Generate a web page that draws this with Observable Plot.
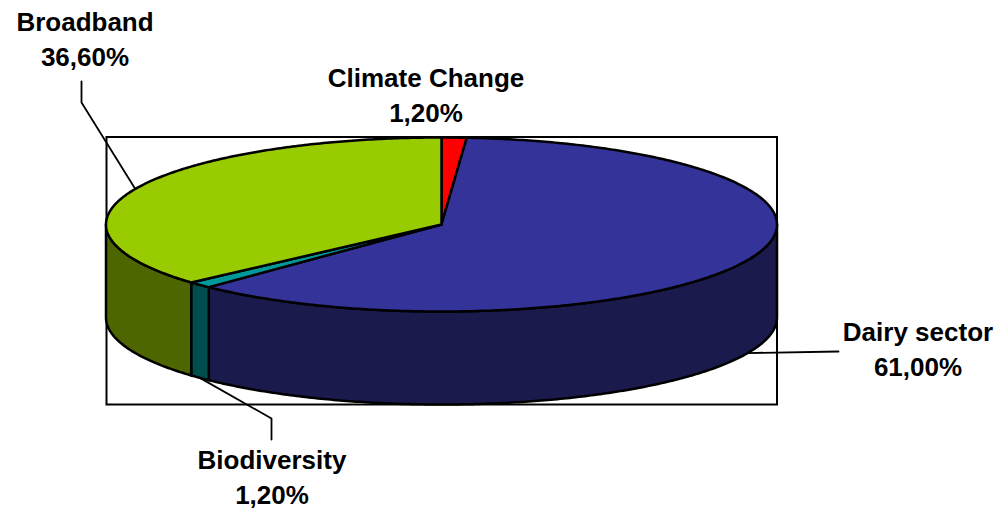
<!DOCTYPE html>
<html>
<head>
<meta charset="utf-8">
<script src="https://cdn.jsdelivr.net/npm/d3@7"></script>
<script src="https://cdn.jsdelivr.net/npm/@observablehq/plot@0.6"></script>
<style>html,body{margin:0;padding:0;background:#fff}svg{display:block}</style>
</head>
<body>
<div id="chart"></div>
<script>
// Data (clockwise from 12 o'clock)
const categories = ["Climate Change", "Dairy sector", "Biodiversity", "Broadband"];
const shares = [1.2, 61.0, 1.2, 36.6];
const valueLabels = ["1,20%", "61,00%", "1,20%", "36,60%"];
const topColors = ["#ff0000", "#333399", "#009999", "#99cc00"];
const sideColors = ["#800000", "#1a1a4d", "#004d4d", "#4d6600"];

// Layout of the fake 3D pie, in pixels
const W = 998, H = 510;
const cx = 441, cy = 224, rx = 335.5, ry = 87, depth = 93;
const box = {x1: 106.5, x2: 777, y1: 137, y2: 404.5};
const labelPos = [[425.5, 93], [917.5, 347], [271.5, 475], [84.5, 37]];
const leaderBends = [null, [[838, 351]], [[271, 418], [271, 439]], [[81, 102], [81, 81]]];

const pt = (a, dy = 0) => ({x: cx + rx * Math.sin(a), y: cy - ry * Math.cos(a) + dy});
const arc = (a0, a1, dy = 0) => {
  const n = Math.max(2, Math.ceil(Math.abs(a1 - a0) / 0.01));
  return d3.range(n + 1).map(i => pt(a0 + (a1 - a0) * i / n, dy));
};

const arcs = d3.pie().value(d => d).sort(null)(shares);

// Top face slices
const topFaces = arcs.flatMap((s, i) =>
  [{x: cx, y: cy}, ...arc(s.startAngle, s.endAngle), {x: cx, y: cy}]
    .map(p => ({...p, id: "top" + i, fill: topColors[i]})));

// Front wall: only the part of each slice on the near half of the pie
const walls = arcs.flatMap((s, i) => {
  const a0 = Math.max(s.startAngle, Math.PI / 2), a1 = Math.min(s.endAngle, 3 * Math.PI / 2);
  if (a1 <= a0) return [];
  const outline = [...arc(a0, a1), ...arc(a1, a0, depth)];
  return [...outline, outline[0]].map(p => ({...p, id: "wall" + i, fill: sideColors[i]}));
});

// Leader lines start at each slice's mid-angle on the visible edge
const leaders = arcs.flatMap((s, i) => {
  if (!leaderBends[i]) return [];
  const a = (s.startAngle + s.endAngle) / 2;
  const near = Math.cos(a) < 0;
  return [pt(a, near ? depth : 0), ...leaderBends[i].map(([x, y]) => ({x, y}))]
    .map(p => ({...p, id: "lead" + i}));
});

const labels = categories.map((c, i) => ({
  text: c + "\n" + valueLabels[i], x: labelPos[i][0], y: labelPos[i][1]
}));

const chart = Plot.plot({
  width: W, height: H,
  margin: 0,
  x: {domain: [0, W], range: [0, W], axis: null},
  y: {domain: [0, H], range: [0, H], axis: null},
  color: {type: "identity"},
  style: {background: "#fff"},
  marks: [
    Plot.rect([box], {x1: "x1", x2: "x2", y1: "y1", y2: "y2", fill: "#fff", stroke: "#000", strokeWidth: 2}),
    Plot.line(walls, {x: "x", y: "y", z: "id", fill: "fill", stroke: "#000", strokeWidth: 2.5, strokeLinejoin: "round"}),
    Plot.line(topFaces, {x: "x", y: "y", z: "id", fill: "fill", stroke: "#000", strokeWidth: 2.5, strokeLinejoin: "round"}),
    Plot.line(leaders, {x: "x", y: "y", z: "id", stroke: "#000", strokeWidth: 1.8}),
    Plot.text(labels, {
      x: "x", y: "y", text: "text", textAnchor: "middle", lineHeight: 1.35,
      fontFamily: "Liberation Sans, Arial, sans-serif", fontWeight: "bold", fontSize: 26, fill: "#000"
    })
  ]
});
document.getElementById("chart").append(chart);
</script>
</body>
</html>
